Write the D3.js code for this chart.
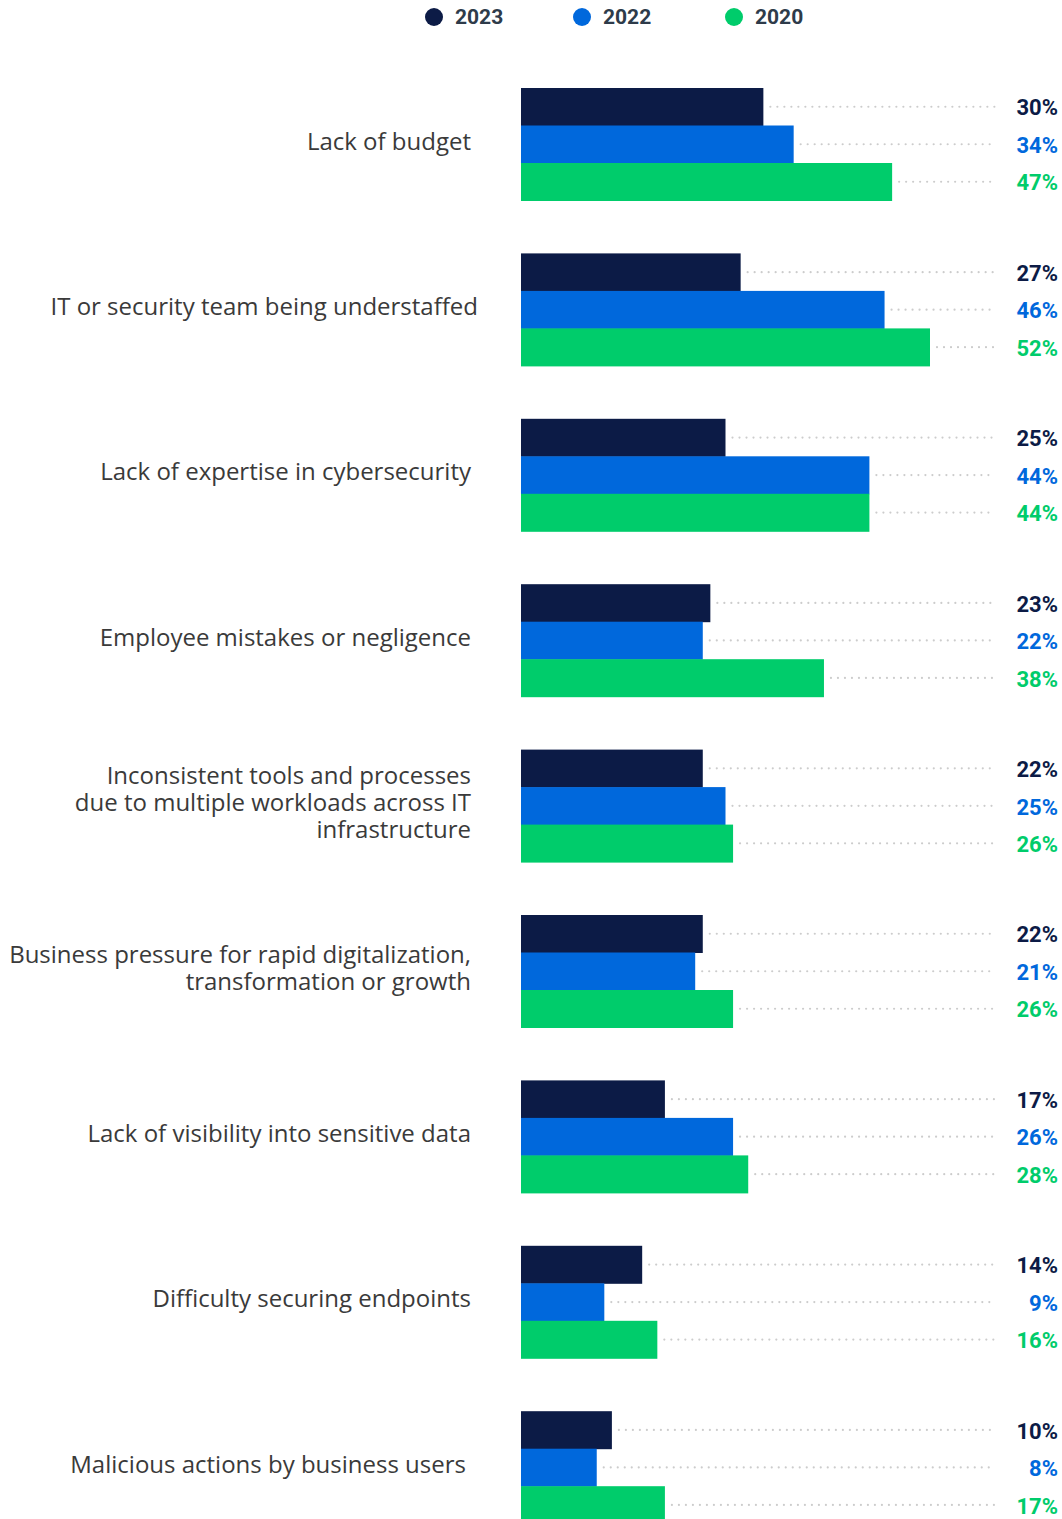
<!DOCTYPE html>
<html>
<head>
<meta charset="utf-8">
<script src="https://cdn.jsdelivr.net/npm/d3@7"></script>
<style>
  html, body { margin: 0; padding: 0; background: #fff; }
  svg { display: block; }
</style>
</head>
<body>
<svg id="chart" width="1062" height="1519"></svg>
<script>
// Survey categories (one group of bars per row)
const categories = [
  ["Lack of budget"],
  ["IT or security team being understaffed"],
  ["Lack of expertise in cybersecurity"],
  ["Employee mistakes or negligence"],
  ["Inconsistent tools and processes", "due to multiple workloads across IT", "infrastructure"],
  ["Business pressure for rapid digitalization,", "transformation or growth"],
  ["Lack of visibility into sensitive data"],
  ["Difficulty securing endpoints"],
  ["Malicious actions by business users"]
];

// Series, in the order they are stacked inside each group
const seriesNames = ["2023", "2022", "2020"];
const values2023 = [30, 27, 25, 23, 22, 22, 17, 14, 10];
const values2022 = [34, 46, 44, 22, 25, 21, 26, 9, 8];
const values2020 = [47, 52, 44, 38, 26, 26, 28, 16, 17];

const seriesColors = ["#0c1b46", "#0068dc", "#00cc6b"];

const svg = d3.select("#chart");

const barLeft = 521;
const x = d3.scaleLinear().domain([-2, 52]).range([barLeft, 930]);

const groupStep = 165.4;
const groupTop = 88;
const barH = 37.5;
const rowIndex = d3.range(categories.length);

const y = d3.scaleLinear().domain([0, categories.length]).range([groupTop, groupTop + groupStep * categories.length]);

const dotEnd = 995;
const valueRight = 1058;

// Legend
const legendX = [434, 582, 734];
const legend = svg.append("g").attr("class", "legend");
seriesNames.forEach((name, i) => {
  legend.append("circle")
    .attr("cx", legendX[i]).attr("cy", 17).attr("r", 9)
    .attr("fill", seriesColors[i]);
  legend.append("text")
    .attr("x", legendX[i] + 21).attr("y", 17)
    .attr("dy", "0.35em")
    .attr("font-family", "Roboto, sans-serif")
    .attr("font-weight", 700)
    .attr("font-size", 21)
    .attr("fill", "#2e3b4a")
    .text(name);
});

const allSeries = [values2023, values2022, values2020];

const groups = svg.append("g").selectAll("g.row")
  .data(rowIndex)
  .join("g")
  .attr("class", "row")
  .attr("transform", i => `translate(0,${y(i)})`);

// Category labels, right aligned, one text per line, centred on the group
const lineH = 27;
groups.each(function(i) {
  const lines = categories[i];
  const center = barH * 1.5 - 3;
  const g = d3.select(this);
  lines.forEach((line, k) => {
    g.append("text")
      .attr("class", "category")
      .attr("text-anchor", "end")
      .attr("font-family", "'Open Sans', sans-serif")
      .attr("font-size", 24)
      .attr("fill", "#3a3a3a")
      .attr("x", i === 1 ? 478 : (i === 8 ? 466 : 471))
      .attr("y", center + (k - (lines.length - 1) / 2) * lineH)
      .attr("dy", "0.35em")
      .text(line);
  });
});

allSeries.forEach((vals, s) => {
  // Dotted leader from the bar end to the value label
  groups.append("line")
    .attr("x1", i => x(vals[i]) + 7)
    .attr("x2", dotEnd)
    .attr("y1", s * barH + barH / 2)
    .attr("y2", s * barH + barH / 2)
    .attr("stroke", "#cccccc")
    .attr("stroke-width", 2.2)
    .attr("stroke-linecap", "round")
    .attr("stroke-dasharray", "0 7");

  groups.append("rect")
    .attr("x", barLeft)
    .attr("y", s * barH)
    .attr("width", i => x(vals[i]) - barLeft)
    .attr("height", barH + 0.5)
    .attr("fill", seriesColors[s]);

  groups.append("text")
    .attr("x", valueRight)
    .attr("y", s * barH + barH / 2 + 1)
    .attr("dy", "0.35em")
    .attr("text-anchor", "end")
    .attr("font-family", "Roboto, sans-serif")
    .attr("font-weight", 700)
    .attr("font-size", 22)
    .attr("fill", seriesColors[s])
    .text(i => vals[i] + "%");
});
</script>
</body>
</html>
